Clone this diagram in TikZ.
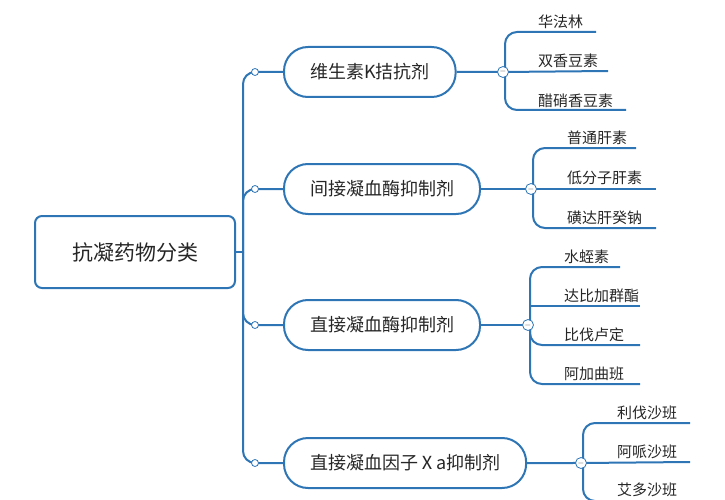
\documentclass[tikz,border=0pt]{standalone}
\usepackage{fontspec}
\setmainfont{Noto Sans CJK SC}
\usetikzlibrary{positioning}
\definecolor{mapblue}{RGB}{46,117,182}
\tikzset{
  root/.style={rectangle, rounded corners=7pt, draw=mapblue, line width=2pt, minimum width=200pt, minimum height=72pt, font=\fontsize{21}{24}\selectfont, text=black!85},
  br/.style={rectangle, rounded corners=24pt, draw=mapblue, line width=2pt, minimum height=50pt, inner xsep=26pt, font=\fontsize{18}{21}\selectfont, text=black!85, anchor=west},
  lf/.style={font=\fontsize{15}{17}\selectfont, text=black!85, anchor=south west, inner sep=2pt},
  ln/.style={draw=mapblue, line width=2pt, rounded corners=12pt},
  dot/.style={circle, draw=mapblue, fill=white, line width=0.8pt, inner sep=0pt, minimum size=7pt},
  tog/.style={circle, draw=mapblue, fill=white, line width=0.8pt, inner sep=0pt, minimum size=11pt, font=\fontsize{8}{8}\selectfont, text=black!70}
}
\begin{document}
\begin{tikzpicture}[x=1pt,y=-1pt]
	\useasboundingbox (0,0) rectangle (725,500);
	\node[root] (root) at (135,252) {抗凝药物分类};
	\coordinate (trunk) at (243,252);

	\node[br] (b1) at (283,72) {维生素K拮抗剂};
	\node[br] (b2) at (283,189) {间接凝血酶抑制剂};
	\node[br] (b3) at (283,325) {直接凝血酶抑制剂};
	\node[br] (b4) at (283,463) {直接凝血因子Ⅹa抑制剂};

	% trunk and branches
	\draw[ln] (root.east) -- (trunk);
	\draw[ln] (trunk) |- (b1.west);
	\draw[ln] (trunk) |- (b4.west);
	\draw[ln] (trunk) |- (b2.west);
	\draw[ln] (trunk) |- (b3.west);
	\node[dot] at (255,72) {};
	\node[dot] at (255,189) {};
	\node[dot] at (255,325) {};
	\node[dot] at (255,463) {};

	% group 1
	\coordinate (t1) at (503,72);
	\node[lf] (l11) at (536,31) {华法林};
	\node[lf] (l12) at (536,70) {双香豆素};
	\node[lf] (l13) at (536,110) {醋硝香豆素};
	\draw[ln] (b1.east) -- (t1) -- (608,71);
	\draw[ln] (596,32) -| (505,72) |- (626,110);
	\node[tog] at (t1) {$-$};

	% group 2
	\coordinate (t2) at (531,189);
	\node[lf] (l21) at (565,147) {普通肝素};
	\node[lf] (l22) at (565,187) {低分子肝素};
	\node[lf] (l23) at (565,227) {磺达肝癸钠};
	\draw[ln] (b2.east) -- (t2) -- (656,189);
	\draw[ln] (636,148) -| (533,189) |- (656,228);
	\node[tog] at (t2) {$-$};

	% group 3
	\coordinate (t3) at (528,325);
	\node[lf] (l31) at (562,266) {水蛭素};
	\node[lf] (l32) at (562,305) {达比加群酯};
	\node[lf] (l33) at (562,344) {比伐卢定};
	\node[lf] (l34) at (562,383) {阿加曲班};
	\draw[ln] (b3.east) -- (t3);
	\draw[ln] (620,267) -| (530,325) |- (640,384);
	\draw[ln] (530,306) -- (640,306);
	\draw[ln] (530,325) |- (640,345);
	\node[tog] at (t3) {$-$};

	% group 4
	\coordinate (t4) at (581,463);
	\node[lf] (l41) at (615,422) {利伐沙班};
	\node[lf] (l42) at (615,461) {阿哌沙班};
	\node[lf] (l43) at (615,499) {艾多沙班};
	\draw[ln] (b4.east) -- (t4) -- (690,462);
	\draw[ln] (690,423) -| (583,463) |- (690,501);
	\node[tog] at (t4) {$-$};
\end{tikzpicture}
\end{document}
